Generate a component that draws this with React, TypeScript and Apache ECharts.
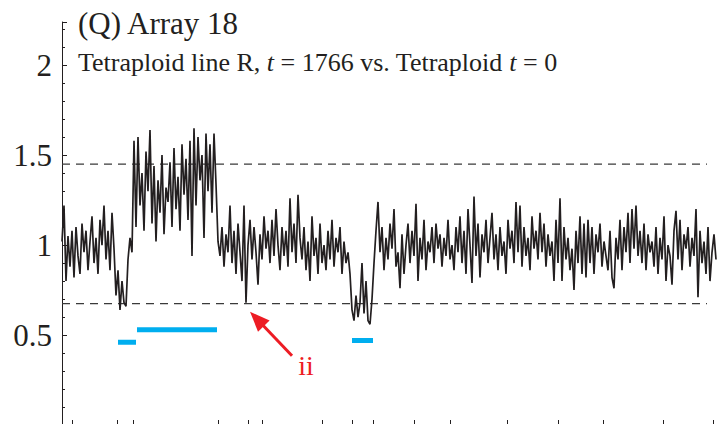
import { useEffect, useRef } from 'react';
import * as echarts from 'echarts';

// copy-number ratio values (probe order)
const armStart = [1.02, 1.22, 0.80, 1.05, 0.88, 1.08, 0.82, 1.10, 0.94, 0.84, 1.12, 0.96, 1.08, 0.86, 1.02, 1.16, 0.90, 1.04, 0.84, 1.14, 1.00, 1.22, 0.92, 1.08, 0.86, 1.18, 0.98];
const firstDip = [0.72, 0.86, 0.64, 0.80, 0.68, 0.66, 0.92, 1.04, 0.96];
const gainRegion = [1.58, 1.10, 1.60, 1.22, 1.40, 1.08, 1.52, 1.30, 1.64, 1.12, 1.44, 1.02, 1.36, 1.18, 1.50, 1.06, 1.32, 1.24, 1.46, 1.10, 1.54, 1.20, 1.38, 1.08, 1.56, 1.28, 1.48, 1.14, 1.58, 0.94, 1.65, 1.22, 1.60, 1.36, 1.50, 1.04, 1.62, 1.30, 1.56, 1.18, 1.62, 1.34];
const middleRegion = [1.02, 0.94, 1.10, 0.88, 1.06, 0.96, 1.22, 0.90, 1.08, 0.84, 1.12, 0.96, 0.80, 1.22, 0.68, 1.00, 1.14, 0.92, 1.10, 0.96, 0.78, 1.06, 0.92, 1.16, 0.98, 1.08, 0.90, 1.14, 0.94, 1.20, 1.00, 0.86, 1.10, 0.94, 1.08, 0.88, 1.26, 0.96, 1.12, 0.90, 1.28, 1.04, 0.92, 1.10, 0.86, 1.02, 0.80, 1.16, 0.94, 1.04, 0.84, 1.12, 0.90, 1.00, 0.86, 1.08, 0.92, 1.14, 0.88, 1.04, 0.96, 1.10, 0.84, 1.02, 0.90, 0.96];
const secondDip = [0.84, 0.64, 0.58, 0.72, 0.60, 0.68, 0.90, 0.62, 0.80, 0.58, 0.56, 0.70];
const armEnd = [
  0.90, 1.08, 1.24, 0.96, 1.10, 0.86, 1.04, 0.92, 1.12, 0.98,
  1.20, 0.88, 0.96, 0.76, 1.06, 0.84, 1.00, 1.12, 0.90, 1.08,
  0.94, 1.23, 0.80, 1.04, 0.92, 1.14, 0.86, 1.02, 0.96, 1.10,
  0.90, 1.12, 0.98, 1.06, 0.88, 1.04, 0.94, 1.14, 0.92, 1.00,
  0.86, 1.10, 0.96, 1.16, 0.90, 1.08, 0.84, 1.20, 1.00, 0.79,
  1.27, 0.94, 1.12, 0.82, 1.06, 0.96, 1.14, 0.90, 1.04, 1.18,
  0.92, 1.06, 0.86, 1.10, 0.94, 1.02, 0.84, 1.14, 0.98, 1.08,
  0.90, 1.24, 0.96, 1.22, 0.88, 1.10, 0.94, 1.04, 0.86, 1.16,
  0.98, 1.08, 0.92, 1.18, 0.96, 1.12, 0.88, 1.06, 0.94, 1.02,
  0.80, 1.14, 0.90, 1.26, 0.80, 1.10, 0.92, 1.04, 0.86, 0.98,
  0.75, 1.08, 0.90, 1.16, 0.84, 1.12, 0.82, 1.14, 0.90, 1.10,
  0.84, 1.06, 0.96, 1.12, 0.88, 1.02, 0.94, 0.86, 1.08, 0.82,
  0.76, 1.04, 0.92, 1.14, 0.86, 1.10, 0.96, 1.18, 0.90, 1.20,
  0.98, 1.22, 0.94, 1.08, 0.90, 1.12, 0.86, 1.06, 0.96, 1.02,
  0.88, 1.10, 0.84, 1.04, 0.92, 1.16, 0.80, 1.00, 0.94, 0.78,
  1.08, 1.19, 0.92, 1.14, 0.86, 1.06, 0.98, 1.10, 0.88, 1.04,
  0.94, 1.20, 0.71, 1.08, 0.90, 1.02, 0.84, 1.10, 0.80, 0.96,
  1.06, 0.92,
];
const ratios = [...armStart, ...firstDip, ...gainRegion, ...middleRegion, ...secondDip, ...armEnd];

// chromosome boundaries (probe index) shown as bottom ticks
const boundaries = [5, 27.5, 35.5, 78, 93, 100, 130, 145, 155.5, 176, 194, 222.5, 248, 270.5, 300.5, 325.5];

// threshold lines
const upperThreshold = 1.45;
const lowerThreshold = 0.675;
const thresholdEnd = 322.5;

// called segments (blue bars)
const callStarts = [28, 37.5, 145];
const callEnds = [37, 77.5, 155.5];
const callValues = [0.46, 0.53, 0.47];

const yMax = 2.24;
const annotationIndex = 92;
const annotationLabel = 'ii';

const titleText = '(Q) Array 18';
const subtitleText = 'Tetraploid line R, {i|t} = 1766 vs. Tetraploid {i|t} = 0';

const FONT = '"Liberation Serif", "Times New Roman", serif';
const INK = '#231F20';
const BLUE = '#00AEEF';
const RED = '#ED1C24';

export default function App() {
  const ref = useRef<HTMLDivElement>(null);
  useEffect(() => {
    if (!ref.current) return;
    const chart = echarts.init(ref.current, null, { renderer: 'svg' });
    const lastIndex = ratios.length - 1;
    const seriesData = ratios.map((v, i) => [i, v]);
    const callSeries = callValues.map((v, k) => ({
      type: 'line',
      data: [[callStarts[k], v], [callEnds[k], v]],
      symbol: 'none',
      silent: true,
      lineStyle: { color: BLUE, width: 5, cap: 'butt' },
      z: 3,
    }));
    const thresholdSeries = [upperThreshold, lowerThreshold].map((v) => ({
      type: 'line',
      data: [[0, v], [thresholdEnd, v]],
      symbol: 'none',
      silent: true,
      lineStyle: { color: '#3a3a3a', width: 1.3, type: [8, 6] },
      z: 1,
    }));
    const option: any = {
      animation: false,
      backgroundColor: '#ffffff',
      title: [
        {
          text: titleText,
          left: 78,
          top: 8,
          padding: 0,
          textStyle: { fontFamily: FONT, fontSize: 31, fontWeight: 'normal', color: INK },
        },
        {
          text: subtitleText,
          left: 78,
          top: 49,
          padding: 0,
          textStyle: {
            fontFamily: FONT,
            fontSize: 26,
            fontWeight: 'normal',
            color: INK,
            rich: { i: { fontFamily: FONT, fontSize: 26, fontStyle: 'italic', color: INK } },
          },
        },
      ],
      grid: { left: 62, right: 718 - (62 + lastIndex * 2), top: 22, bottom: 5, outerBoundsMode: 'none' },
      xAxis: {
        type: 'value',
        min: 0,
        max: lastIndex,
        splitLine: { show: false },
        axisLine: { show: false },
        axisLabel: { show: false },
        axisTick: { show: true, inside: true, length: 5, customValues: boundaries, lineStyle: { color: INK, width: 1 } },
      },
      yAxis: [
        {
          type: 'value',
          position: 'left',
          min: 0,
          max: yMax,
          interval: 0.5,
          splitLine: { show: false },
          axisLine: { show: true, lineStyle: { color: INK, width: 1 } },
          axisTick: { show: true, inside: true, length: 5, lineStyle: { color: INK, width: 1 } },
          axisLabel: {
            margin: 10,
            fontFamily: FONT,
            fontSize: 31,
            color: INK,
            formatter: (v: number) => (v <= 0 || v > 2.1 ? '' : String(v)),
          },
        },
        {
          type: 'value',
          position: 'left',
          offset: 0,
          min: 0,
          max: yMax,
          interval: 0.1,
          splitLine: { show: false },
          axisLine: { show: false },
          axisTick: { show: true, inside: true, length: 3, lineStyle: { color: INK, width: 1 } },
          axisLabel: { show: false },
        },
      ],
      series: [
        ...thresholdSeries,
        {
          type: 'line',
          data: seriesData,
          symbol: 'none',
          silent: true,
          lineStyle: { color: INK, width: 1.7 },
          z: 2,
        },
        ...callSeries,
      ],
    };
    chart.setOption(option);

    const p = chart.convertToPixel({ xAxisIndex: 0, yAxisIndex: 0 }, [annotationIndex, ratios[annotationIndex]]) as number[];
    const tip = [p[0] + 4, p[1] + 9];
    const tail = [tip[0] + 42, tip[1] + 44];
    const dx = tip[0] - tail[0];
    const dy = tip[1] - tail[1];
    const len = Math.hypot(dx, dy);
    const ux = dx / len;
    const uy = dy / len;
    const headLen = 20;
    const headHalf = 8;
    const bx = tip[0] - ux * headLen;
    const by = tip[1] - uy * headLen;
    chart.setOption({
      graphic: [
        {
          type: 'line',
          silent: true,
          shape: { x1: tail[0], y1: tail[1], x2: bx + ux * 2, y2: by + uy * 2 },
          style: { stroke: RED, lineWidth: 3 },
        },
        {
          type: 'polygon',
          silent: true,
          shape: {
            points: [
              [tip[0], tip[1]],
              [bx - uy * headHalf, by + ux * headHalf],
              [bx + uy * headHalf, by - ux * headHalf],
            ],
          },
          style: { fill: RED },
        },
        {
          type: 'text',
          silent: true,
          x: tail[0] + 14,
          y: tail[1] + 10,
          style: { text: annotationLabel, fontFamily: FONT, fontSize: 28, fill: RED, align: 'center', verticalAlign: 'middle' },
        },
      ],
    });
    return () => chart.dispose();
  }, []);
  return <div ref={ref} style={{ position: 'fixed', left: 0, top: 0, width: 718, height: 430 }} />;
}
